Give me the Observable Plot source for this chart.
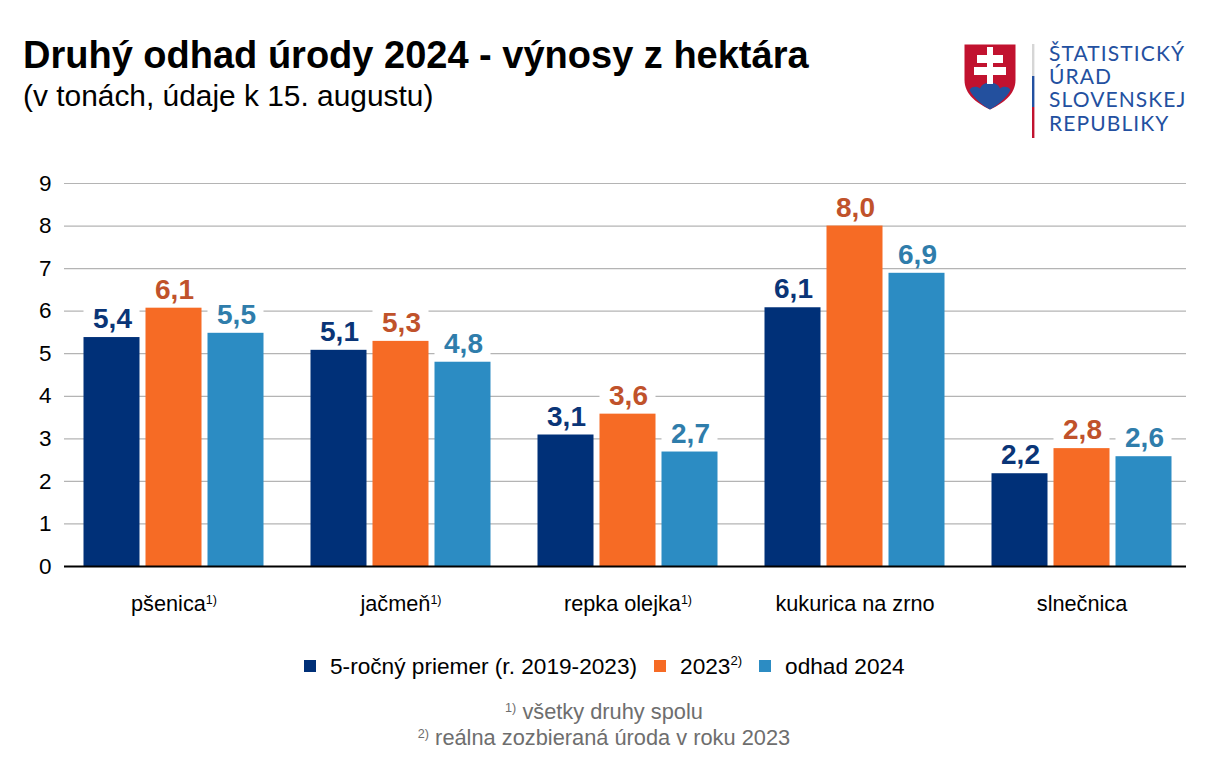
<!DOCTYPE html>
<html lang="sk">
<head>
<meta charset="utf-8">
<script src="https://cdn.jsdelivr.net/npm/d3@7"></script>
<script src="https://cdn.jsdelivr.net/npm/@observablehq/plot@0.6"></script>
<style>
  html, body { margin: 0; padding: 0; background: #fff; }
  #root { position: relative; width: 1224px; height: 776px; overflow: hidden; font-family: "Liberation Sans", Arial, sans-serif; color: #000; }
  #root > * { position: absolute; }
  h1 { margin: 0; left: 23px; top: 34px; font-size: 38px; line-height: 42px; font-weight: 700; white-space: nowrap; }
  #subtitle { left: 23px; top: 78px; font-size: 29.9px; line-height: 36px; white-space: nowrap; }
  #chart { left: 0; top: 150px; }
  #chart svg { display: block; }
  #legend { left: 304px; top: 651px; height: 30px; display: flex; align-items: center; font-size: 22.65px; white-space: nowrap; }
  #legend i { display: inline-block; width: 12px; height: 12px; margin-right: 14px; }
  #legend span.item { display: inline-flex; align-items: center; margin-right: 17px; }
  sup { font-size: 58%; line-height: 0; vertical-align: baseline; position: relative; top: -0.55em; }
  #legend sup { top: -5px; }
  #notes { left: 0; width: 1208px; top: 699px; text-align: center; color: #6e6e6e; font-size: 21.8px; line-height: 26px; }
  #logoMark { left: 960px; top: 40px; }
  #logoText { left: 1049px; top: 40.5px; color: #2350a0; font-family: Lato, sans-serif; font-size: 21px; line-height: 23.4px; letter-spacing: 1.1px; white-space: nowrap; }
</style>
</head>
<body>
<div id="root">
  <h1 id="title"></h1>
  <div id="subtitle"></div>
  <svg id="logoMark" width="80" height="100" viewBox="0 0 80 100">
    <path d="M4.5 4.5H55.5V40C55.5 54 44 63 30 69.5C16 63 4.5 54 4.5 40Z" fill="#c1122f"/>
    <path d="M9.5 50C11 46.5 17 45.5 20 48.5C21.5 45 25 42.5 30 42.5C35 42.5 38.5 45 40 48.5C43 45.5 49 46.5 50.5 50C46.5 58 38 65 30 69.5C22 65 13.5 58 9.5 50Z" fill="#23509e"/>
    <path d="M27 7H33V15H43V23H33V27H46V35H33V44H27V35H14V27H27V23H17V15H27Z" fill="#fff"/>
    <rect x="72" y="4" width="2.4" height="32" fill="#d6d6d6"/>
    <rect x="72" y="36" width="2.4" height="31" fill="#2350a0"/>
    <rect x="72" y="67" width="2.4" height="31" fill="#c1122f"/>
  </svg>
  <div id="logoText"></div>
  <div id="chart"></div>
  <div id="legend"></div>
  <div id="notes"></div>
</div>
<script>
const titleText = "Druhý odhad úrody 2024 - výnosy z hektára";
const subtitleText = "(v tonách, údaje k 15. augustu)";
const logoLines = ["ŠTATISTICKÝ", "ÚRAD", "SLOVENSKEJ", "REPUBLIKY"];

const categories = ["pšenica", "jačmeň", "repka olejka", "kukurica na zrno", "slnečnica"];
const categoryNotes = ["1)", "1)", "1)", "", ""];
const seriesNames = ["5-ročný priemer (r. 2019-2023)", "2023", "odhad 2024"];
const seriesNotes = ["", "2)", ""];
const average = [5.38, 5.08, 3.09, 6.08, 2.18];
const crop2023 = [6.07, 5.29, 3.58, 8.0, 2.77];
const estimate2024 = [5.48, 4.8, 2.69, 6.89, 2.58];
const yTicks = [0, 1, 2, 3, 4, 5, 6, 7, 8, 9];
const barColors = ["#003078", "#f66b25", "#2c8cc3"];
const labelColors = ["#0a3577", "#c0522b", "#2f7dab"];
const footnotes = [["1)", "všetky druhy spolu"], ["2)", "reálna zozbieraná úroda v roku 2023"]];

const fmt = d => d.toFixed(1).replace(".", ",");
const seriesValues = [average, crop2023, estimate2024];
const seriesRows = seriesValues.map(vals => vals.map((value, c) => ({category: categories[c], value})));
const barStep = 62, barOuter = 23.5;
const inset = s => ({insetLeft: barOuter + s * barStep, insetRight: barOuter + (2 - s) * barStep});

document.getElementById("title").textContent = titleText;
document.getElementById("subtitle").textContent = subtitleText;
document.getElementById("logoText").innerHTML = logoLines.join("<br>");

const chart = Plot.plot({
  width: 1224,
  height: 480,
  marginTop: 33,
  marginBottom: 64,
  marginLeft: 60,
  marginRight: 29,
  style: {background: "#fff", fontFamily: '"Liberation Sans", Arial, sans-serif', color: "#000"},
  x: {domain: categories, padding: 0, round: false, label: null, axis: null},
  y: {domain: [0, 9], axis: null, label: null},
  marks: [
    Plot.ruleY(yTicks.slice(1), {stroke: "#b4b4b4", strokeWidth: 1.2, insetLeft: 4, insetRight: 9}),
    Plot.axisY({ticks: yTicks, tickSize: 0, tickPadding: 9, fontSize: 22.5, label: null}),
    Plot.axisX({anchor: "bottom", tickSize: 0, tickPadding: 29, fontSize: 21.7, label: null}),
    // white plate behind each value label: it interrupts the grid, as in the reference
    ...seriesRows.map((rows, s) => Plot.barY(rows, {
      x: "category", y1: d => d.value + 0.13, y2: d => d.value + 0.78, fill: "#fff", ...inset(s)
    })),
    ...seriesRows.map((rows, s) => Plot.barY(rows, {
      x: "category", y: "value", fill: barColors[s], ...inset(s)
    })),
    ...seriesRows.map((rows, s) => Plot.text(rows, {
      x: "category", y: "value", dx: (s - 1) * barStep + 0.5,
      text: d => fmt(d.value),
      fill: labelColors[s],
      fontWeight: 700, fontSize: 28, lineAnchor: "bottom", dy: -9.5,
      ariaLabel: "value label"
    })),
    Plot.ruleY([0], {stroke: "#000", strokeWidth: 2, insetLeft: 4, insetRight: 9})
  ]
});
document.getElementById("chart").append(chart);

// the reference's value labels are horizontally condensed
d3.select(chart).selectAll("g[aria-label='value label'] text")
  .attr("textLength", 34).attr("lengthAdjust", "spacingAndGlyphs");

// category superscripts, read from categoryNotes
d3.select(chart).selectAll("text").each(function () {
  const i = categories.indexOf(this.textContent);
  if (i >= 0 && categoryNotes[i]) {
    d3.select(this).append("tspan").text(categoryNotes[i]).attr("font-size", 12.5).attr("dy", "-0.55em");
  }
});

document.getElementById("legend").innerHTML = seriesNames.map((n, i) =>
  `<span class="item"><i style="background:${barColors[i]}"></i>${n}${seriesNotes[i] ? `<sup>${seriesNotes[i]}</sup>` : ""}</span>`).join("");
document.getElementById("notes").innerHTML = footnotes.map(([m, t]) => `<div><sup>${m}</sup> ${t}</div>`).join("");
</script>
</body>
</html>
